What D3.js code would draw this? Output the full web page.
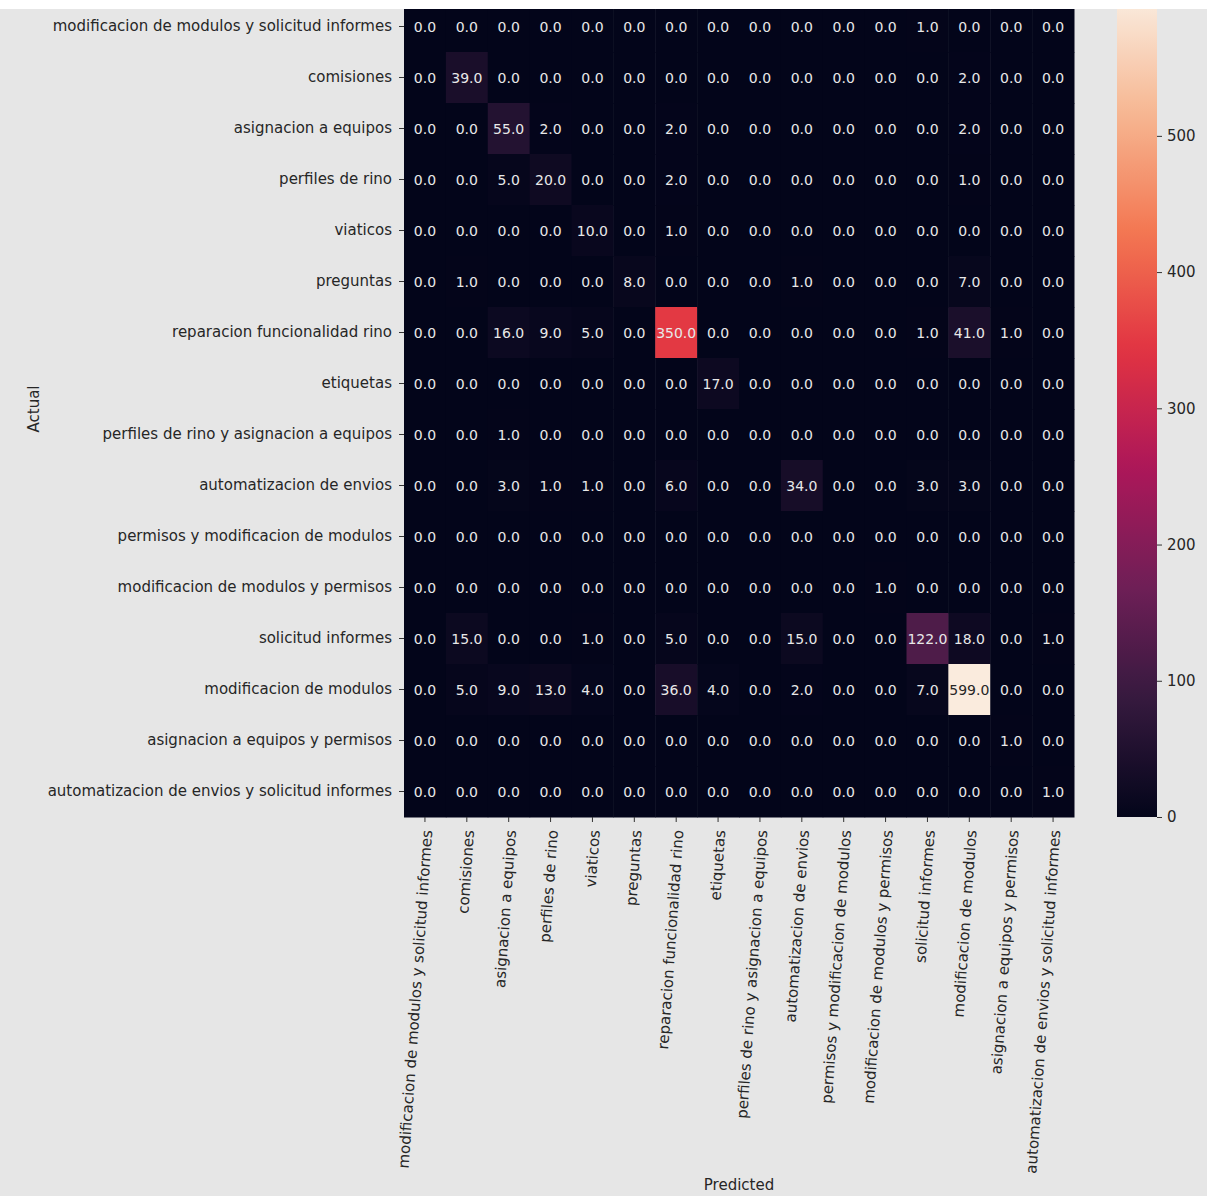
<!DOCTYPE html>
<html>
<head>
<meta charset="utf-8">
<script src="https://cdn.jsdelivr.net/npm/d3@7"></script>
<style>
  body { margin: 0; background: #e6e6e6; }
  svg { display: block; font-family: "DejaVu Sans", sans-serif; }
</style>
</head>
<body>
<div id="chart"></div>
<script>
// class names, same order on both axes
var categories = [
    'modificacion de modulos y solicitud informes',
    'comisiones',
    'asignacion a equipos',
    'perfiles de rino',
    'viaticos',
    'preguntas',
    'reparacion funcionalidad rino',
    'etiquetas',
    'perfiles de rino y asignacion a equipos',
    'automatizacion de envios',
    'permisos y modificacion de modulos',
    'modificacion de modulos y permisos',
    'solicitud informes',
    'modificacion de modulos',
    'asignacion a equipos y permisos',
    'automatizacion de envios y solicitud informes'
];

// confusion matrix, one row per actual class
var matrix = [
    [0, 0, 0, 0, 0, 0, 0, 0, 0, 0, 0, 0, 1, 0, 0, 0],
    [0, 39, 0, 0, 0, 0, 0, 0, 0, 0, 0, 0, 0, 2, 0, 0],
    [0, 0, 55, 2, 0, 0, 2, 0, 0, 0, 0, 0, 0, 2, 0, 0],
    [0, 0, 5, 20, 0, 0, 2, 0, 0, 0, 0, 0, 0, 1, 0, 0],
    [0, 0, 0, 0, 10, 0, 1, 0, 0, 0, 0, 0, 0, 0, 0, 0],
    [0, 1, 0, 0, 0, 8, 0, 0, 0, 1, 0, 0, 0, 7, 0, 0],
    [0, 0, 16, 9, 5, 0, 350, 0, 0, 0, 0, 0, 1, 41, 1, 0],
    [0, 0, 0, 0, 0, 0, 0, 17, 0, 0, 0, 0, 0, 0, 0, 0],
    [0, 0, 1, 0, 0, 0, 0, 0, 0, 0, 0, 0, 0, 0, 0, 0],
    [0, 0, 3, 1, 1, 0, 6, 0, 0, 34, 0, 0, 3, 3, 0, 0],
    [0, 0, 0, 0, 0, 0, 0, 0, 0, 0, 0, 0, 0, 0, 0, 0],
    [0, 0, 0, 0, 0, 0, 0, 0, 0, 0, 0, 1, 0, 0, 0, 0],
    [0, 15, 0, 0, 1, 0, 5, 0, 0, 15, 0, 0, 122, 18, 0, 1],
    [0, 5, 9, 13, 4, 0, 36, 4, 0, 2, 0, 0, 7, 599, 0, 0],
    [0, 0, 0, 0, 0, 0, 0, 0, 0, 0, 0, 0, 0, 0, 1, 0],
    [0, 0, 0, 0, 0, 0, 0, 0, 0, 0, 0, 0, 0, 0, 0, 1]
];

var colorbarTicks = [0, 100, 200, 300, 400, 500];

// rocket colormap anchors
var rocketStops = [0, 1 / 7, 2 / 7, 3 / 7, 4 / 7, 5 / 7, 6 / 7, 1];
var rocketColors = ['#03051a', '#35193e', '#701f57', '#ad1759', '#e13342', '#f37651', '#f6b48f', '#faebdd'];

var w = 1207;
var h = 1196;

var cells = [];
matrix.forEach(function(row, i) {
    row.forEach(function(v, j) {
        cells.push({ actual: categories[i], predicted: categories[j], value: v });
    });
});

var vmax = d3.max(cells, function(d) { return d.value; });

var rocket = d3.scaleLinear()
    .domain(rocketStops)
    .range(rocketColors)
    .interpolate(d3.interpolateRgb);

var color = function(v) { return rocket(v / vmax); };

var x = d3.scaleBand().domain(categories).range([404, 1074]);
var y = d3.scaleBand().domain(categories).range([1, 817]);

var svg = d3.select('#chart')
    .append('svg')
    .attr('width', w)
    .attr('height', h);

svg.append('rect')
    .attr('width', w).attr('height', h)
    .attr('fill', '#e6e6e6');

// heatmap cells
svg.append('g').selectAll('rect')
    .data(cells)
    .enter()
    .append('rect')
    .attr('x', function(d) { return x(d.predicted); })
    .attr('y', function(d) { return y(d.actual); })
    .attr('width', x.bandwidth() + 0.5)
    .attr('height', y.bandwidth() + 0.5)
    .attr('fill', function(d) { return color(d.value); });

// annotations
svg.append('g').selectAll('text')
    .data(cells)
    .enter()
    .append('text')
    .attr('x', function(d) { return x(d.predicted) + x.bandwidth() / 2; })
    .attr('y', function(d) { return y(d.actual) + y.bandwidth() / 2; })
    .attr('text-anchor', 'middle')
    .attr('dominant-baseline', 'central')
    .attr('font-size', 14)
    .attr('fill', function(d) {
        var c = d3.rgb(color(d.value));
        var lum = (0.2126 * c.r + 0.7152 * c.g + 0.0722 * c.b) / 255;
        return lum > 0.408 ? '#262626' : '#e8e8e8';
    })
    .text(function(d) { return d3.format('.1f')(d.value); });

// y axis
var yAxis = svg.append('g')
    .attr('transform', 'translate(404,0)')
    .call(d3.axisLeft(y).tickSize(5).tickPadding(7));
yAxis.select('.domain').remove();
yAxis.selectAll('line').attr('stroke', '#333');
yAxis.selectAll('text')
    .attr('font-size', 15)
    .attr('font-family', '"DejaVu Sans", sans-serif')
    .attr('fill', '#262626');

// x axis, labels turned nearly upright
var xAxis = svg.append('g')
    .attr('transform', 'translate(0,817)')
    .call(d3.axisBottom(x).tickSize(5));
xAxis.select('.domain').remove();
xAxis.selectAll('line').attr('stroke', '#333');
xAxis.selectAll('text')
    .attr('x', 0)
    .attr('y', 0)
    .attr('dy', '0.35em')
    .attr('text-anchor', 'end')
    .attr('transform', 'translate(2,13) rotate(-86)')
    .attr('font-size', 15)
    .attr('font-family', '"DejaVu Sans", sans-serif')
    .attr('fill', '#262626');

// axis titles
svg.append('text')
    .attr('transform', 'translate(39,409) rotate(-90)')
    .attr('text-anchor', 'middle')
    .attr('font-size', 15)
    .attr('fill', '#262626')
    .text('Actual');

svg.append('text')
    .attr('x', 739)
    .attr('y', 1190)
    .attr('text-anchor', 'middle')
    .attr('font-size', 15)
    .attr('fill', '#262626')
    .text('Predicted');

// colorbar
var cb = d3.scaleLinear().domain([0, vmax]).range([817, 1]);

var grad = svg.append('defs').append('linearGradient')
    .attr('id', 'rocket')
    .attr('x1', 0).attr('y1', 1).attr('x2', 0).attr('y2', 0);
grad.selectAll('stop')
    .data(d3.range(0, 1.0001, 0.02))
    .enter()
    .append('stop')
    .attr('offset', function(t) { return t; })
    .attr('stop-color', function(t) { return rocket(t); });

svg.append('rect')
    .attr('x', 1117)
    .attr('y', cb(vmax))
    .attr('width', 40)
    .attr('height', cb(0) - cb(vmax))
    .attr('fill', 'url(#rocket)');

var cbAxis = svg.append('g')
    .attr('transform', 'translate(1157,0)')
    .call(d3.axisRight(cb).tickValues(colorbarTicks).tickSize(5).tickPadding(5));
cbAxis.select('.domain').remove();
cbAxis.selectAll('line').attr('stroke', '#333');
cbAxis.selectAll('text')
    .attr('font-size', 15)
    .attr('font-family', '"DejaVu Sans", sans-serif')
    .attr('fill', '#262626');

// white strip along the top edge
svg.append('rect')
    .attr('width', w).attr('height', 9)
    .attr('fill', '#ffffff');
</script>
</body>
</html>
